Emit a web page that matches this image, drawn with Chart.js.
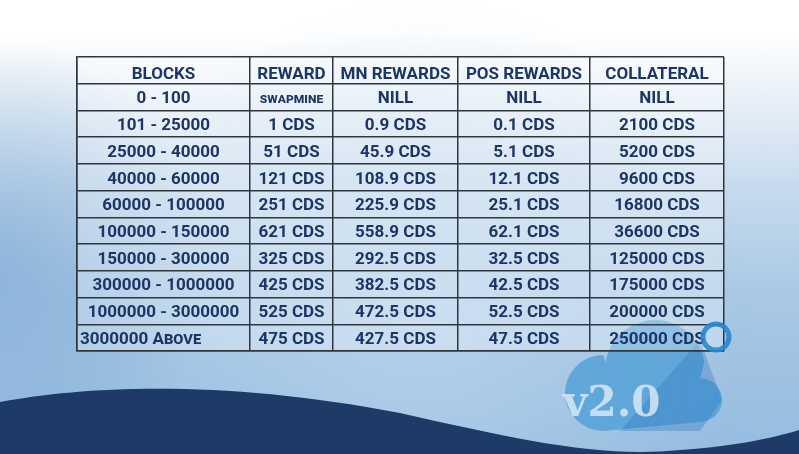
<!DOCTYPE html>
<html><head><meta charset="utf-8">
<script src="https://cdn.jsdelivr.net/npm/chart.js@4/dist/chart.umd.min.js"></script>
<style>
html,body{margin:0;padding:0;width:799px;height:454px;overflow:hidden;
background:linear-gradient(180deg,#ffffff 0%,#ffffff 7%,#eef4f9 18%,#c9dcee 40%,#a9c8e5 65%,#95bce0 100%);}
#wrap{position:relative;width:799px;height:454px;}
</style></head>
<body><div id="wrap"><canvas id="c" width="799" height="454"></canvas></div>
<script>
// ---- data ----
const headers = ["BLOCKS","REWARD","MN REWARDS","POS REWARDS","COLLATERAL"];
const blocks = ["0 - 100","101 - 25000","25000 - 40000","40000 - 60000","60000 - 100000","100000 - 150000","150000 - 300000","300000 - 1000000","1000000 - 3000000","3000000 Above"];
const reward = ["swapmine",1,51,121,251,621,325,425,525,475];
const mnRewards = ["NILL",0.9,45.9,108.9,225.9,558.9,292.5,382.5,472.5,427.5];
const posRewards = ["NILL",0.1,5.1,12.1,25.1,62.1,32.5,42.5,52.5,47.5];
const collateral = ["NILL",2100,5200,9600,16800,36600,125000,175000,200000,250000];
const unit = "CDS";

// ---- layout (not data) ----
const COL_WIDTHS = [173,83,125,132,134];
const colEdges = COL_WIDTHS.reduce((a,w)=>{a.push(a[a.length-1]+w);return a;},[0]);
const TEXT = "#1c3563";

function fmt(v){ return typeof v === "number" ? v + " " + unit : v; }
const columns = [blocks, reward, mnRewards, posRewards, collateral];
const nRows = blocks.length + 1;

const datasets = columns.map((col, ci) => {
  const cx = (colEdges[ci] + colEdges[ci+1]) / 2;
  const texts = [headers[ci]].concat(col.map(fmt));
  return {
    label: headers[ci],
    texts: texts,
    data: texts.map((t, ri) => ({x: cx, y: ri + 0.5})),
    pointRadius: 0, showLine: false
  };
});

const bgPlugin = {
  id: "bg",
  beforeDraw(chart) {
    const ctx = chart.ctx, W = chart.width, H = chart.height;
    ctx.save();
    // soft lighter glow in the middle
    const g = ctx.createRadialGradient(420, 330, 10, 420, 330, 330);
    g.addColorStop(0, "rgba(190,215,238,0.6)");
    g.addColorStop(1, "rgba(190,215,238,0)");
    ctx.fillStyle = g; ctx.fillRect(0, 0, W, H);
    // darker left side
    const g2 = ctx.createRadialGradient(0, 260, 10, 0, 260, 220);
    g2.addColorStop(0, "rgba(105,155,205,0.45)");
    g2.addColorStop(1, "rgba(105,155,205,0)");
    ctx.fillStyle = g2; ctx.fillRect(0, 0, W, H);
    // wave
    ctx.beginPath();
    ctx.moveTo(0, 402);
    ctx.bezierCurveTo(90, 385, 230, 380, 400, 413);
    ctx.bezierCurveTo(520, 440, 600, 458, 680, 450);
    ctx.bezierCurveTo(740, 446, 780, 436, 799, 430);
    ctx.lineTo(799, 454); ctx.lineTo(0, 454); ctx.closePath();
    ctx.fillStyle = "#1e3a66"; ctx.fill();
    // cloud logo
    ctx.globalAlpha = 0.75;
    ctx.fillStyle = "#4a9cd6";
    ctx.beginPath();
    ctx.arc(603, 393, 38, Math.PI*0.5, Math.PI*1.5);
    ctx.arc(655, 370, 50, Math.PI*1.05, Math.PI*1.95);
    ctx.arc(700, 400, 22, -Math.PI*0.5, Math.PI*0.5);
    ctx.lineTo(603, 431);
    ctx.closePath(); ctx.fill();
    ctx.globalAlpha = 0.35;
    ctx.fillStyle = "#2f78c0";
    ctx.beginPath();
    ctx.moveTo(700, 340); ctx.lineTo(722, 400); ctx.lineTo(700, 431); ctx.lineTo(620, 431);
    ctx.closePath(); ctx.fill();
    ctx.globalAlpha = 1;
    ctx.font = "bold 42px 'DejaVu Serif'";
    ctx.fillStyle = "rgba(215,232,246,0.85)";
    ctx.textBaseline = "alphabetic"; ctx.textAlign = "left";
    ctx.fillText("v2.0", 563, 416);
    ctx.restore();
    // table cell fill
    const a = chart.chartArea;
    ctx.save();
    ctx.fillStyle = "rgba(255,255,255,0.3)";
    ctx.fillRect(a.left, a.top, a.right - a.left, a.bottom - a.top);
    ctx.restore();
  }
};

const textPlugin = {
  id: "celltext",
  afterDatasetsDraw(chart) {
    const ctx = chart.ctx;
    ctx.save();
    ctx.fillStyle = TEXT;
    ctx.textBaseline = "middle";
    chart.data.datasets.forEach((ds, i) => {
      const meta = chart.getDatasetMeta(i);
      meta.data.forEach((el, j) => {
        const t = ds.texts[j];
        let x = el.x, y = el.y + (j === 0 ? 4 : 2);
        ctx.textAlign = "center";
        if (t === "swapmine") {
          ctx.font = "small-caps bold 14px Roboto";
        } else if (i === 0 && j === ds.texts.length - 1) {
          ctx.font = "small-caps bold 17px Roboto";
          ctx.textAlign = "left";
          x = chart.chartArea.left + 3;
        } else {
          ctx.font = "bold 17px Roboto";
        }
        ctx.fillText(t, x, y);
      });
    });
    // ring of the logo
    ctx.beginPath();
    ctx.arc(716, 337, 13, 0, Math.PI*2);
    ctx.lineWidth = 5; ctx.strokeStyle = "rgba(40,135,205,0.9)"; ctx.stroke();
    ctx.restore();
  }
};

new Chart(document.getElementById("c"), {
  type: "scatter",
  data: { datasets: datasets },
  options: {
    responsive: false, animation: false,
    layout: { padding: { left: 77, right: 75, top: 57, bottom: 103 } },
    plugins: { legend: { display: false }, tooltip: { enabled: false } },
    scales: {
      x: {
        type: "linear", min: 0, max: colEdges[colEdges.length-1],
        afterBuildTicks: (s) => { s.ticks = colEdges.map(v => ({value: v})); },
        ticks: { display: false },
        grid: { color: "#2e3640", lineWidth: 1.5, drawTicks: false },
        border: { color: "#2e3640", width: 1.5 }
      },
      y: {
        type: "linear", min: 0, max: nRows, reverse: true,
        ticks: { display: false, stepSize: 1 },
        grid: { color: "#2e3640", lineWidth: 1.5, drawTicks: false },
        border: { color: "#2e3640", width: 1.5 }
      }
    }
  },
  plugins: [bgPlugin, textPlugin]
});
</script></body></html>
